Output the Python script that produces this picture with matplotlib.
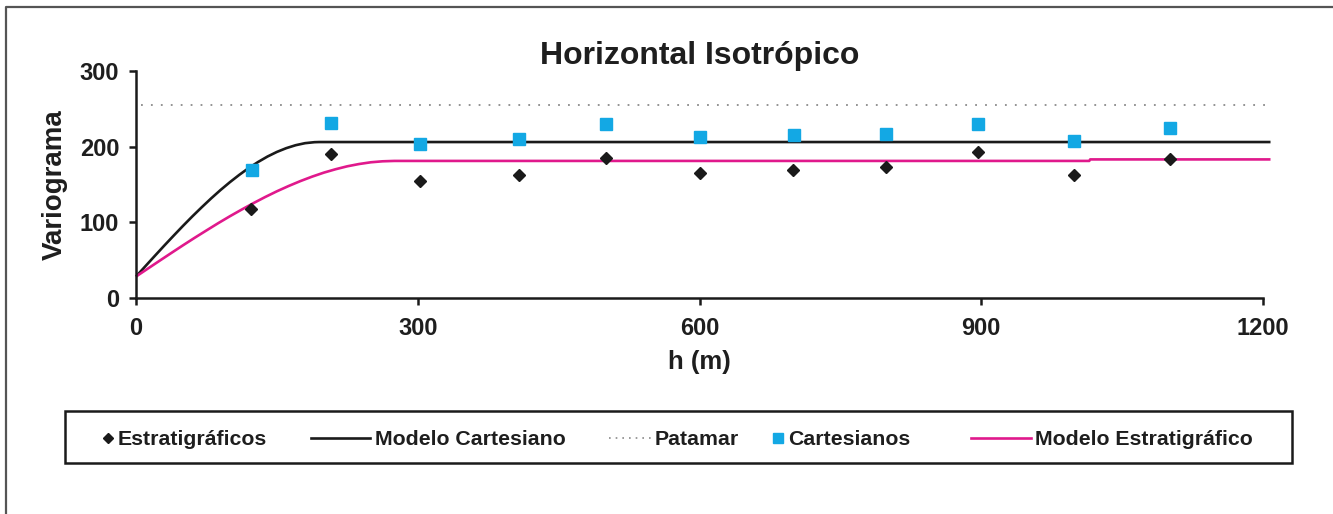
import matplotlib
matplotlib.use("Agg")
import matplotlib.pyplot as plt
from matplotlib.patches import Rectangle

plt.rcParams['font.family'] = ['Liberation Sans', 'DejaVu Sans']
plt.rcParams['font.weight'] = 'bold'

# ---- data ----
h_estrat = [122, 208, 302, 408, 500, 601, 700, 799, 897, 999, 1101]
g_estrat = [117, 190, 155, 163, 185, 165, 169, 173, 193, 163, 183]

h_cart = [123, 208, 302, 408, 500, 601, 701, 799, 897, 999, 1101]
g_cart = [169, 231, 203, 210, 230, 213, 215, 216, 230, 208, 224]

# Modelo Cartesiano (curve)
h_mod_cart = [0, 10, 20, 30, 40, 50, 60, 70, 80, 90, 100, 110, 120, 130,
              140, 150, 160, 170, 180, 190, 195, 1208]
g_mod_cart = [28, 41.7, 55.3, 68.8, 82, 95, 107.6, 119.7, 131.4, 142.5, 152.9,
              162.6, 171.6, 179.6, 186.8, 192.9, 197.9, 201.8, 204.5, 205.8, 206, 206]

# Modelo Estratigrafico (curve)
h_mod_estr = [0, 12.5, 25, 37.5, 50, 62.5, 75, 87.5, 100, 112.5, 125, 137.5, 150,
              162.5, 175, 187.5, 200, 212.5, 225, 237.5, 250, 262.5, 275,
              1015, 1016, 1208]
g_mod_estr = [28, 38.4, 48.8, 59.1, 69.3, 79.3, 89, 98.6, 107.8, 116.6, 125.1,
              133.2, 140.8, 147.8, 154.3, 160.2, 165.5, 170, 173.9, 176.9, 179.2,
              180.5, 181, 181, 183, 183]

# Patamar (sill)
h_patamar = [5, 1208]
g_patamar = [255, 255]

x_ticks = [0, 300, 600, 900, 1200]
y_ticks = [0, 100, 200, 300]

title = "Horizontal Isotrópico"
xlabel = "h (m)"
ylabel = "Variograma"
legend_labels = ["Estratigráficos", "Modelo Cartesiano", "Patamar",
                 "Cartesianos", "Modelo Estratigráfico"]

# ---- styles ----
TXT = '#1e1e1e'
BLUE = '#13a8e4'
MAGENTA = '#e0198c'
GREY = '#8a8a8a'

W, H = 1333, 514
fig = plt.figure(figsize=(W / 100, H / 100), dpi=100)
fig.patch.set_facecolor('white')

# overlay for border and legend (pixel coordinates)
ov = fig.add_axes([0, 0, 1, 1], zorder=0)
ov.set_xlim(0, W)
ov.set_ylim(H, 0)
ov.axis('off')

ax = fig.add_axes([136 / W, (H - 297.7) / H, (1263 - 136) / W, (297.7 - 71) / H], zorder=1)
ax.patch.set_alpha(0)

ax.plot(h_patamar, g_patamar, color=GREY, lw=1.3, linestyle=(0, (1, 4.5)), clip_on=False)
ax.plot(h_mod_cart, g_mod_cart, color='#1a1a1a', lw=1.9, clip_on=False,
        solid_capstyle='butt', solid_joinstyle='round')
ax.plot(h_mod_estr, g_mod_estr, color=MAGENTA, lw=1.9, clip_on=False,
        solid_capstyle='butt', solid_joinstyle='round')
ax.plot(h_cart, g_cart, linestyle='none', marker='s', ms=8.6, color=BLUE, mec=BLUE, clip_on=False)
ax.plot(h_estrat, g_estrat, linestyle='none', marker='D', ms=6.3, color='#1a1a1a', clip_on=False)

ax.set_xlim(0, 1200)
ax.set_ylim(0, 300)
ax.set_xticks(x_ticks)
ax.set_yticks(y_ticks)
for s in ['top', 'right']:
    ax.spines[s].set_visible(False)
for s in ['left', 'bottom']:
    ax.spines[s].set_linewidth(1.8)
    ax.spines[s].set_color('#1a1a1a')
ax.tick_params(axis='both', direction='out', length=5, width=1.8, color='#1a1a1a',
               labelsize=17, labelcolor=TXT)
ax.tick_params(axis='y', pad=7)
ax.tick_params(axis='x', pad=9)
for lab in ax.get_xticklabels() + ax.get_yticklabels():
    lab.set_fontweight('bold')

ax.set_title(title, fontsize=23, fontweight='bold', color=TXT, pad=5)
ax.set_xlabel(xlabel, fontsize=18.5, fontweight='bold', color=TXT, labelpad=7)
ax.set_ylabel(ylabel, fontsize=20, fontweight='bold', color=TXT, labelpad=9)

# outer border (top and left visible)
ov.plot([6, 6, W + 5], [H + 5, 6.5, 6.5], color='#555555', lw=1.6, clip_on=False)

# legend box
ov.add_patch(Rectangle((65, 411), 1292 - 65, 463 - 411, fill=False, ec='#1a1a1a', lw=1.8))
ly = 437.5
fs = 15.3
ov.plot([108], [ly], marker='D', ms=5, color='#1a1a1a', linestyle='none')
ov.text(118, ly, legend_labels[0], fontsize=fs, fontweight='bold', color=TXT, va='center_baseline', ha='left')
ov.plot([311, 370], [ly, ly], color='#1a1a1a', lw=1.9)
ov.text(375, ly, legend_labels[1], fontsize=fs, fontweight='bold', color=TXT, va='center_baseline', ha='left')
ov.plot([609, 651], [ly, ly], color=GREY, lw=1.2, linestyle=(0, (1, 3)))
ov.text(655, ly, legend_labels[2], fontsize=fs, fontweight='bold', color=TXT, va='center_baseline', ha='left')
ov.plot([778], [ly], marker='s', ms=6.5, color=BLUE, linestyle='none')
ov.text(788, ly, legend_labels[3], fontsize=fs, fontweight='bold', color=TXT, va='center_baseline', ha='left')
ov.plot([971, 1031], [ly, ly], color=MAGENTA, lw=1.9)
ov.text(1035, ly, legend_labels[4], fontsize=fs, fontweight='bold', color=TXT, va='center_baseline', ha='left')

fig.savefig('out.png', dpi=100, facecolor='white')
